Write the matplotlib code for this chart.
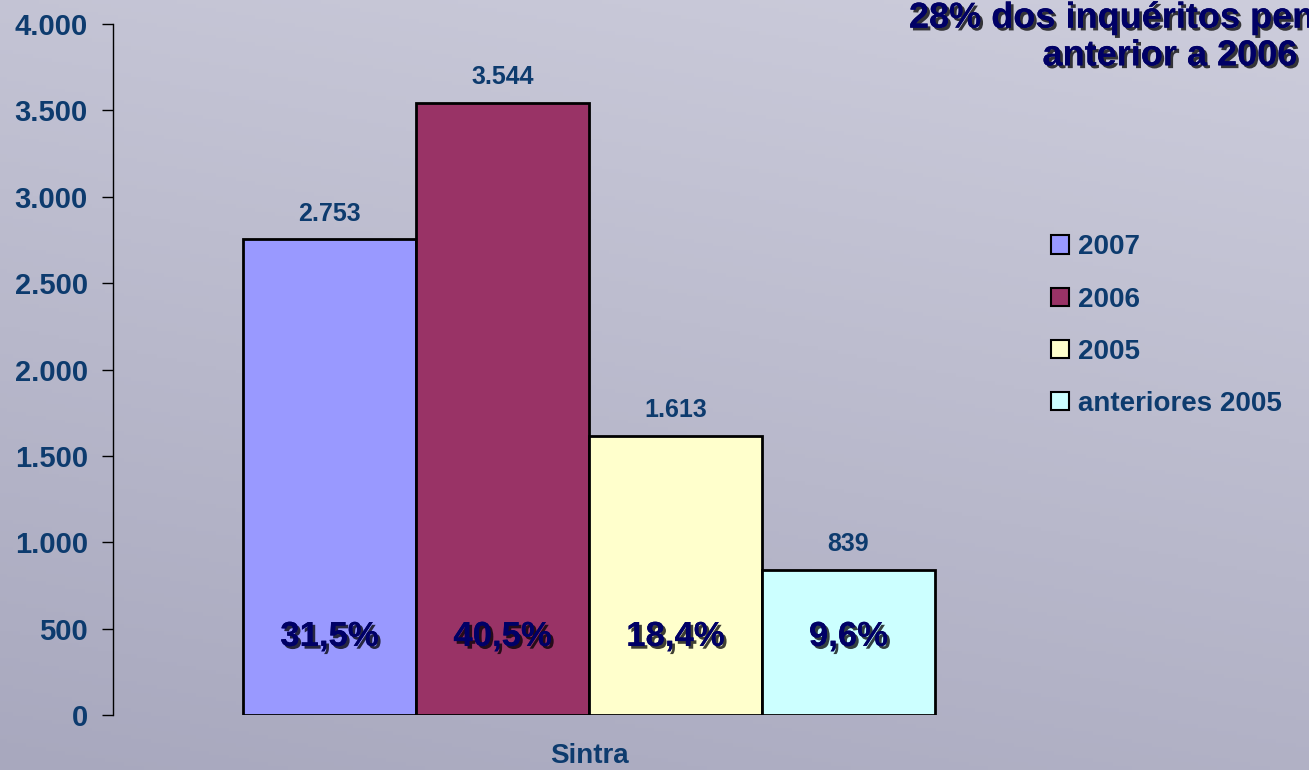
import matplotlib
matplotlib.use("Agg")
import matplotlib.pyplot as plt
import matplotlib.patheffects as pe
from matplotlib.patches import Patch
import numpy as np

# data
series = ["2007", "2006", "2005", "anteriores 2005"]
values = [2753, 3544, 1613, 839]
value_labels = ["2.753", "3.544", "1.613", "839"]
pct_labels = ["31,5%", "40,5%", "18,4%", "9,6%"]
colors = ["#9999ff", "#993366", "#ffffcc", "#ccffff"]
category = "Sintra"
yticks = [0, 500, 1000, 1500, 2000, 2500, 3000, 3500, 4000]
ytick_labels = ["0", "500", "1.000", "1.500", "2.000", "2.500", "3.000", "3.500", "4.000"]
title = "28% dos inquéritos pendentes\nanterior a 2006"

label_col = "#0d3b6e"
navy = "#000066"
sans = ["Liberation Sans", "DejaVu Sans"]
shadow = [pe.withSimplePatchShadow(offset=(2, -2), shadow_rgbFace="black", alpha=0.75), pe.Normal()]

fig = plt.figure(figsize=(13.09, 7.7), dpi=100)

# background gradient
bg = fig.add_axes([0, 0, 1, 1], zorder=-10)
yy, xx = np.mgrid[0:1:200j, 0:1:200j]
t = 0.75 * yy + 0.25 * (1 - xx)
top = np.array([205, 205, 220]) / 255
bot = np.array([168, 168, 190]) / 255
img = top[None, None, :] * (1 - t[..., None]) + bot[None, None, :] * t[..., None]
bg.imshow(img, aspect="auto", extent=[0, 1, 0, 1])
bg.axis("off")

ax = fig.add_axes([0.0863, 0.0714, 0.7273, 0.8974])
ax.patch.set_alpha(0)

w = 0.1817
offsets = (np.arange(len(values)) - 1.5) * w
bars = ax.bar(offsets, values, width=w, color=colors, edgecolor="black", linewidth=2)

for x, v, lab, pct in zip(offsets, values, value_labels, pct_labels):
    ax.annotate(lab, (x, v), xytext=(0, 10), textcoords="offset points",
                ha="center", va="bottom", fontsize=18, fontweight="bold", color=label_col,
                family=sans)
    ax.text(x, 455, pct, ha="center", va="center", fontsize=25, fontweight="bold",
            color=navy, family=sans, path_effects=shadow)

ax.set_xlim(-0.5, 0.5)
ax.set_ylim(0, 4000)
ax.set_yticks(yticks)
ax.set_yticklabels(ytick_labels, fontsize=21, fontweight="bold", color=label_col, family=sans)
ax.set_xticks([0])
ax.set_xticklabels([category], fontsize=20, fontweight="bold", color=label_col, family=sans)
ax.tick_params(axis="x", length=0, pad=20)
ax.tick_params(axis="y", direction="out", length=8, width=1, pad=10)
for s in ["top", "right", "bottom"]:
    ax.spines[s].set_visible(False)
ax.spines["left"].set_linewidth(1)

handles = [Patch(facecolor=c, edgecolor="black", linewidth=1.5) for c in colors]
leg = fig.legend(handles, series, loc="upper left", bbox_to_anchor=(0.784, 0.728),
                 frameon=False, handlelength=0.65, handleheight=0.65, handletextpad=0.3,
                 labelspacing=0.94, prop={"family": sans, "weight": "bold", "size": 20})
for txt in leg.get_texts():
    txt.set_color(label_col)

fig.text(1170 / 1309, 1 - 37 / 770, title, ha="center", va="center", fontsize=26,
         fontweight="bold", color=navy, linespacing=1.1, family=sans, path_effects=shadow)

fig.savefig("out.png", dpi=100)
